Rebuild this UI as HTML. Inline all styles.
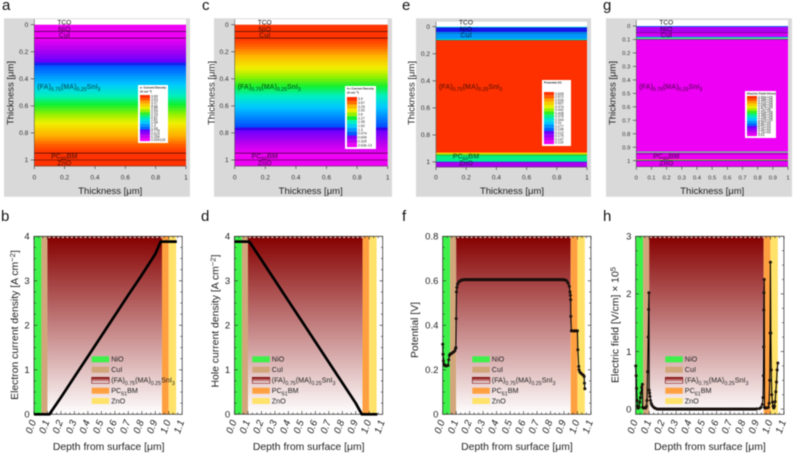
<!DOCTYPE html>
<html lang="en">
<head>
<meta charset="utf-8">
<title>Simulated perovskite device profiles</title>
<style>
html,body{margin:0;padding:0;background:#fff;width:793px;height:455px;overflow:hidden}
svg{display:block;filter:blur(.4px);font-family:"Liberation Sans","DejaVu Sans",sans-serif}
</style>
</head>
<body>
<svg id="figure" xmlns="http://www.w3.org/2000/svg" width="793" height="455" viewBox="0 0 793 455"></svg>
<script>
// ---------- heatmap data ----------
const rampEdges = [0,.02,.04,.06,.08,.1,.12,.14,.16,.18,.2,.22,.24,.26,.28,.3,.32,.34,.36,.38,.4,.42,.44,.46,.48,.5,.52,.54,.56,.58,.6,.62,.64,.66,.68,.7,.72,.74,.76,.78,.8,.82,.84,.86,.88,.9,.92,.94,.96,.98,1,1.02,1.04,1.06];
const electronMapValues = [0,0,0,0,0,.05,.14,.23,.32,.41,.5,.6,.69,.78,.87,.96,1.05,1.14,1.24,1.33,1.42,1.51,1.6,1.7,1.79,1.88,1.97,2.06,2.16,2.25,2.34,2.43,2.52,2.62,2.71,2.8,2.89,2.98,3.08,3.17,3.26,3.35,3.44,3.54,3.63,3.72,3.81,3.88,3.88,3.88,3.88,3.88,3.88];
const holeMapValues = [3.88,3.88,3.88,3.88,3.88,3.85,3.76,3.67,3.58,3.49,3.4,3.3,3.21,3.12,3.03,2.94,2.85,2.76,2.66,2.57,2.48,2.39,2.3,2.2,2.11,2.02,1.93,1.84,1.74,1.65,1.56,1.47,1.38,1.28,1.19,1.1,1.01,.92,.82,.73,.64,.55,.46,.36,.27,.18,.09,.02,0,0,0,0,0];
const potentialEdges = [0,.006,.04,.09,.1,.93,.94,.95,.995,1,1.06];
const potentialMapValues = [.335,.223,.277,.35,.605,.507,.43,.375,.29,.17];
const fieldEdges = [0,.006,.05,.08,.085,.09,.095,.1,.932,.935,.938,.941,.992,.995,.998,1.002,1.06];
const fieldMapValues = [.7,.25,.12,.8,1.2,1.8,.9,0,1.3,2,1.1,0,2.1,1.6,.7,.03];

// ---------- colour legend labels ----------
const electronLegendLabels = ["3.89","3.63","3.37","3.11","2.85","2.59","2.33","2.07","1.81","1.56","1.3","1.04","0.778","0.519","0.259","0.000115"];
const holeLegendLabels = ["3.9","3.57","3.25","2.92","2.6","2.27","1.95","1.62","1.3","0.974","0.649","0.325","3.63e-13"];
const potentialLegendLabels = ["0.605","0.572","0.539","0.507","0.474","0.442","0.408","0.375","0.343","0.31","0.277","0.245","0.212","0.179","0.147","0.115"];
const fieldLegendLabels = ["2.55e+05","2.38e+05","2.21e+05","2.04e+05","1.87e+05","1.7e+05","1.53e+05","1.36e+05","1.19e+05","1.02e+05","8.5e+04","6.8e+04","5.1e+04","3.4e+04","1.7e+04","3.61"];

// ---------- line series data ----------
const electronDepth = [0,.02,.04,.06,.08,.1,.114,.2,.3,.4,.5,.6,.7,.8,.9,.94,.96,1,1.03,1.06];
const electronCurrent = [0,0,0,0,0,0,0,.38,.84,1.3,1.76,2.22,2.68,3.13,3.6,3.88,3.88,3.88,3.88,3.88];
const holeDepth = [0,.02,.04,.06,.08,.1,.11,.2,.3,.4,.5,.6,.7,.8,.9,.945,.96,1,1.03,1.06];
const holeCurrent = [3.88,3.88,3.88,3.88,3.88,3.88,3.88,3.47,3.01,2.55,2.09,1.63,1.17,.71,.25,0,0,0,0,0];
const potentialDepth = [0,.002,.005,.01,.015,.02,.03,.04,.045,.05,.055,.06,.07,.08,.09,.095,.098,.1,.102,.105,.11,.12,.13,.14,.15,
.16,.17,.18,.19,.2,.21,.22,.23,.24,.25,
.26,.27,.28,.29,.3,.31,.32,.33,.34,.35,
.36,.37,.38,.39,.4,.41,.42,.43,.44,.45,
.46,.47,.48,.49,.5,.51,.52,.53,.54,.55,
.56,.57,.58,.59,.6,.61,.62,.63,.64,.65,
.66,.67,.68,.69,.7,.71,.72,.73,.74,.75,
.76,.77,.78,.79,.8,.81,.82,.83,.84,.85,
.86,.87,.88,.89,.9,
.91,.92,.93,.94,.945,.948,.95,.951,.955,.965,.975,.985,.995,1,1.003,1.01,1.012,1.018,1.025,1.035,1.045,1.05,1.052,1.055];
const potentialValues = [.315,.27,.24,.225,.22,.218,.218,.22,.245,.265,.27,.272,.275,.28,.285,.295,.3,.43,.55,.57,.585,.595,.6,.603,.604,
.605,.605,.605,.605,.605,.605,.605,.605,.605,.605,
.605,.605,.605,.605,.605,.605,.605,.605,.605,.605,
.605,.605,.605,.605,.605,.605,.605,.605,.605,.605,
.605,.605,.605,.605,.605,.605,.605,.605,.605,.605,
.605,.605,.605,.605,.605,.605,.605,.605,.605,.605,
.605,.605,.605,.605,.605,.605,.605,.605,.605,.605,
.605,.605,.605,.605,.605,.605,.605,.605,.605,.605,
.605,.605,.605,.605,.605,
.603,.6,.59,.575,.55,.535,.515,.44,.375,.375,.375,.375,.375,.375,.29,.215,.2,.19,.185,.18,.175,.17,.14,.115];
const fieldDepth = [0,.003,.006,.01,.013,.018,.025,.03,.035,.04,.045,.05,.052,.058,.065,.075,.08,.084,.088,.093,.096,.098,.1,.103,.106,.11,.115,.12,.13,.14,.15,
.16,.17,.18,.19,.2,.21,.22,.23,.24,.25,
.26,.27,.28,.29,.3,.31,.32,.33,.34,.35,
.36,.37,.38,.39,.4,.41,.42,.43,.44,.45,
.46,.47,.48,.49,.5,.51,.52,.53,.54,.55,
.56,.57,.58,.59,.6,.61,.62,.63,.64,.65,
.66,.67,.68,.69,.7,.71,.72,.73,.74,.75,
.76,.77,.78,.79,.8,.81,.82,.83,.84,.85,
.86,.87,.88,.89,
.9,.92,.93,.94,.945,.948,.95,.951,.952,.954,.956,.96,.97,.985,.99,.995,.998,1,1.003,1.006,1.01,1.015,1.02,1.025,1.03,1.035,1.04,1.045,1.05,1.055];
const fieldValues = [.75,.58,.36,.15,.05,.02,.03,.12,.2,.28,.38,.43,.03,.02,.02,.02,.05,.15,.65,1.25,1.73,2.02,.33,.28,.22,.15,.1,.07,.04,.02,.01,
0,0,0,0,0,0,0,0,0,0,
0,0,0,0,0,0,0,0,0,0,
0,0,0,0,0,0,0,0,0,0,
0,0,0,0,0,0,0,0,0,0,
0,0,0,0,0,0,0,0,0,0,
0,0,0,0,0,0,0,0,0,0,
0,0,0,0,0,0,0,0,0,0,
0,0,0,0,
.005,.01,.03,.08,.2,.58,1.08,1.72,2.02,2.25,.03,.02,.02,.03,.1,.5,1.32,2.55,1.32,.68,.25,.12,.05,.02,.05,.13,.3,.47,.68,.8];

// ---------- axis tick labels ----------
const heatTicksCoarse = [0,.2,.4,.6,.8,1];
const heatTicksFine = [0,.1,.2,.3,.4,.5,.6,.7,.8,.9,1];
const depthTickLabels = ["0.0","0.1","0.2","0.3","0.4","0.5","0.6","0.7","0.8","0.9","1.0","1.1"];
const currentTicks = [0,1,2,3,4];
const potentialTicks = [0,.2,.4,.6,.8];
const fieldTicks = [0,1,2,3];
const stackNames = [[["NiO",0]],[["CuI",0]],[["(FA)",0],["0.75",1],["(MA)",0],["0.25",1],["SnI",0],["3",1]],[["PC",0],["61",1],["BM",0]],[["ZnO",0]]];
const stackColors = ["#3df04a","#d2a67a",null,"#ffa040","#ffe26a"];
const layerEdges = [0,.055,.1,.95,1,1.055];

// ---------- helpers ----------
const NS = "http://www.w3.org/2000/svg";
const root = document.getElementById("figure");
function mk(parent, tag, attrs, text){
  const el = document.createElementNS(NS, tag);
  for (const k in attrs) el.setAttribute(k, attrs[k]);
  if (text !== undefined) el.textContent = text;
  parent.appendChild(el);
  return el;
}
function label(el, name){
  
  
  return el;
}
// segment level: 0 = baseline, 1 = subscript, -1 = superscript
function richText(parent, attrs, segs, name){
  const t = mk(parent, "text", attrs);
  label(t, name);
  const fs = parseFloat(attrs["font-size"]);
  let state = 0;
  segs.forEach(s => {
    const a = {};
    const level = s[1];
    if (level !== state) a.dy = ((level - state) * fs * 0.3).toFixed(2);
    if (level !== 0) a["font-size"] = (fs * .74).toFixed(2);
    mk(t, "tspan", a, s[0]);
    state = level;
  });
  return t;
}
const cmapStops = [[0,238,0,244],[.1,176,0,240],[.2,106,0,255],[.215,32,0,224],[.235,0,80,255],[.4,0,200,255],[.5,0,240,192],[.58,16,240,48],[.66,144,240,0],[.74,240,240,0],[.85,255,176,0],[.93,255,96,0],[1,255,48,0]];
function cmap(t){
  t = Math.max(0, Math.min(1, t));
  for (let i = 1; i < cmapStops.length; i++){
    const a = cmapStops[i-1], b = cmapStops[i];
    if (t <= b[0]){
      const f = (t - a[0]) / (b[0] - a[0]);
      return "rgb(" + [1,2,3].map(k => Math.round(a[k] + (b[k]-a[k]) * f)).join(",") + ")";
    }
  }
  return "rgb(255,48,0)";
}

// ---------- gradient used by perovskite layer ----------
const defs = mk(root, "defs", {});
const grad = mk(defs, "linearGradient", {id:"perovskite", x1:0, y1:0, x2:0, y2:1});
mk(grad, "stop", {offset:"0", "stop-color":"#860000"});
mk(grad, "stop", {offset:"1", "stop-color":"#ffffff"});

// ---------- heatmap panels ----------
function heatPanel(p){
  const g = mk(root, "g", {});
  label(g, "panel-" + p.letter);
  label(mk(g, "rect", {x:p.bg[0], y:18.3, width:p.bg[1]-p.bg[0], height:178.5, fill:"#d9d9d9"}), "panel-background");
  label(mk(g, "text", {x:p.lx, y:10, "font-size":15, fill:"#111"}, p.letter), "panel-letter");
  const X = v => p.x0 + v * (p.x1 - p.x0);
  const Y = v => p.y0 + v * (p.y1 - p.y0);
  const bottom = p.yb;
  label(mk(g, "rect", {x:p.x0, y:p.yt, width:p.x1-p.x0, height:bottom-p.yt, fill:"#fff"}), "tco-region");
  const cg = mk(g, "g", {});
  label(cg, "heatmap");
  p.values.forEach((v, i) => {
    const top = Y(p.edges[i]);
    const bot = Math.min(Y(p.edges[i+1]), bottom);
    const c = mk(cg, "rect", {x:p.x0, y:top.toFixed(2), width:p.x1-p.x0, height:(bot-top+.3).toFixed(2), fill:cmap((v-p.min)/(p.max-p.min))});
    label(c, "heatmap-band");
  });
  [.05,.1,.95,1].forEach(d => {
    label(mk(g, "line", {x1:p.x0, x2:p.x1, y1:Y(d), y2:Y(d), stroke:"#000", "stroke-width":.6, "stroke-opacity":p.lineOp}), "layer-boundary");
  });
  // axes
  const axisColor = "#444";
  p.ticks.forEach(t => {
    label(mk(g, "line", {x1:p.x0-3.5, x2:p.x0, y1:Y(t), y2:Y(t), stroke:axisColor, "stroke-width":.7}), "y-tick");
    label(mk(g, "line", {x1:X(t), x2:X(t), y1:bottom, y2:bottom+3, stroke:axisColor, "stroke-width":.7}), "x-tick");
    label(mk(g, "text", {x:p.x0-6, y:Y(t)+2.2, "font-size":p.tickFont, "text-anchor":"end", fill:"#333"}, t === 0 || t === 1 ? String(t) : t.toFixed(1)), "y-tick-label");
    label(mk(g, "text", {x:X(t), y:179.5, "font-size":p.tickFont, "text-anchor":"middle", fill:"#333"}, t === 0 || t === 1 ? String(t) : t.toFixed(1)), "x-tick-label");
  });
  label(mk(g, "line", {x1:p.x0, x2:p.x0, y1:p.yt, y2:bottom, stroke:axisColor, "stroke-width":.5}), "y-axis");
  label(mk(g, "line", {x1:p.x0, x2:p.x1, y1:bottom, y2:bottom, stroke:axisColor, "stroke-width":.5}), "x-axis");
  label(mk(g, "text", {x:0, y:0, "font-size":9.5, "text-anchor":"middle", "dominant-baseline":"central", fill:"#222", transform:"translate("+p.ytx+",93) rotate(-90)"}, "Thickness [\u03bcm]"), "y-axis-title");
  label(mk(g, "text", {x:p.x0+76, y:194, "font-size":9.5, "text-anchor":"middle", fill:"#222"}, "Thickness [\u03bcm]"), "x-axis-title");
  // layer labels
  const cx = p.x0 + 30;
  const labelAttrs = (x,y,a) => ({x:x, y:y, "font-size":7, "text-anchor":a, "font-weight":"bold", fill:"#000", "fill-opacity":.5});
  const tco = labelAttrs(cx,24.3,"middle"); tco["fill-opacity"] = .95; tco["font-weight"] = "normal"; tco["font-size"] = 6.6;
  label(mk(g, "text", tco, "TCO"), "tco-label");
  label(mk(g, "text", labelAttrs(cx,31.5,"middle"), "NiO"), "nio-label");
  label(mk(g, "text", labelAttrs(cx,37.5,"middle"), "CuI"), "cui-label");
  richText(g, labelAttrs(p.x0+3,89,"start"), [["(FA)",0],["0.75",1],["(MA)",0],["0.25",1],["SnI",0],["3",1]], "perovskite-label");
  richText(g, labelAttrs(cx,158.5,"middle"), [["PC",0],["60",1],["BM",0]], "pcbm-label");
  label(mk(g, "text", labelAttrs(cx,165.3,"middle"), "ZnO"), "zno-label");
  // colour legend
  const L = p.leg;
  const lg = mk(g, "g", {});
  label(lg, "color-legend");
  label(mk(lg, "rect", {x:L.x, y:L.y, width:L.w, height:L.h, fill:"#fff"}), "legend-box");
  p.legTitle.forEach((s, i) => {
    label(mk(lg, "text", {x:L.x+2, y:L.y+3.6+i*4, "font-size":3, "font-weight":"bold", fill:"#111"}, s), "legend-title");
  });
  const n = p.legend.length;
  const sy = L.y + L.top, sh = (L.h - L.top - 2) / n;
  p.legend.forEach((s, i) => {
    const v = parseFloat(s) * p.legScale;
    label(mk(lg, "rect", {x:L.x+2, y:(sy+i*sh).toFixed(2), width:10, height:(sh+.1).toFixed(2), fill:cmap((v-p.min)/(p.max-p.min))}), "legend-swatch");
    label(mk(lg, "text", {x:L.x+13, y:(sy+i*sh+sh/2+1.2).toFixed(2), "font-size":3.5, fill:"#222"}, s), "legend-value");
  });
}
heatPanel({letter:"a", lx:2, bg:[4,190], x0:34.3, x1:186, y0:24.7, y1:160, yt:19.2, yb:166, ytx:11, tickFont:6.6, edges:rampEdges, values:electronMapValues, min:0, max:3.89, lineOp:.85, ticks:heatTicksCoarse,
  legTitle:["e- Current Density","(A cm\u207b\u00b2)"], legend:electronLegendLabels, legScale:1, leg:{x:138,y:85,w:30,h:58,top:10}});
heatPanel({letter:"c", lx:202, bg:[214,392], x0:234.7, x1:387.7, y0:24.7, y1:160, yt:19.2, yb:166, ytx:212, tickFont:6.6, edges:rampEdges, values:holeMapValues, min:0, max:3.9, lineOp:.85, ticks:heatTicksCoarse,
  legTitle:["h+ Current Density","(A cm\u207b\u00b2)"], legend:holeLegendLabels, legScale:1, leg:{x:345,y:86,w:31,h:63,top:11}});
heatPanel({letter:"e", lx:402, bg:[416,591], x0:436, x1:587, y0:26.7, y1:162, yt:21.7, yb:167, ytx:412, tickFont:6.6, edges:potentialEdges, values:potentialMapValues, min:.115, max:.605, lineOp:.35, ticks:heatTicksCoarse,
  legTitle:["     Potential (V)"], legend:potentialLegendLabels, legScale:1, leg:{x:542,y:80,w:29,h:66,top:12}});
heatPanel({letter:"g", lx:603, bg:[606,792], x0:636.3, x1:788, y0:26, y1:160.7, yt:20, yb:166.7, ytx:613, tickFont:5.8, edges:fieldEdges, values:fieldMapValues, min:0, max:2.55, lineOp:.45, ticks:heatTicksFine,
  legTitle:["Electric Field (V/cm)"], legend:fieldLegendLabels, legScale:1e-5, leg:{x:745,y:91,w:31,h:47,top:5}});

// ---------- line panels ----------
const PT = 236.3, PB = 414.3;
function linePanel(p){
  const g = mk(root, "g", {});
  label(g, "panel-" + p.letter);
  label(mk(g, "text", {x:p.lx, y:221, "font-size":15, fill:"#111"}, p.letter), "panel-letter");
  const X = v => p.x0 + v / 1.1 * 148.2;
  const Y = v => PB - (v - p.ymin) / (p.ymax - p.ymin) * (PB - PT);
  const names = ["nio-layer","cui-layer","perovskite-layer","pcbm-layer","zno-layer"];
  stackColors.forEach((c, i) => {
    label(mk(g, "rect", {x:X(layerEdges[i]), y:PT, width:X(layerEdges[i+1])-X(layerEdges[i]), height:PB-PT, fill:c || "url(#perovskite)"}), names[i]);
  });
  // pale comb along the top of the perovskite
  for (let k = 3; k < 29; k++){
    const d = k / 30;
    label(mk(g, "rect", {x:X(d)+.8, y:PT+.4, width:2.2, height:1.3, fill:"#ecc0b8"}), "top-edge-dash");
  }
  // frame ticks
  const tk = "#222";
  for (let k = 0; k <= 33; k++){
    const d = k / 30;
    const major = k % 3 === 0;
    const len = major ? 3.2 : 1.8;
    label(mk(g, "line", {x1:X(d), x2:X(d), y1:PB, y2:PB-len, stroke:tk, "stroke-width":.6}), "x-tick-bottom");
    label(mk(g, "line", {x1:X(d), x2:X(d), y1:PT, y2:PT+len, stroke:tk, "stroke-width":.6}), "x-tick-top");
  }
  depthTickLabels.forEach((s, i) => {
    const x = X(i / 10);
    label(mk(g, "text", {transform:"translate("+(x-2.5)+",427) rotate(-70)", "font-size":9.8, "font-style":"italic", "text-anchor":"middle", "dominant-baseline":"central", fill:"#222"}, s), "x-tick-label");
  });
  p.ticks.forEach(t => {
    label(mk(g, "text", {x:p.x0-4.3, y:Y(t)+3.3, "font-size":9.5, "text-anchor":"end", fill:"#222"}, p.fmt(t)), "y-tick-label");
  });
  const step = p.ticks[1] - p.ticks[0];
  for (let k = 0; k * step / 4 <= p.ymax + 1e-9; k++){
    const v = k * step / 4;
    const len = k % 4 === 0 ? 3.2 : 1.8;
    label(mk(g, "line", {x1:p.x0, x2:p.x0+len, y1:Y(v), y2:Y(v), stroke:tk, "stroke-width":.6}), "y-tick-left");
    label(mk(g, "line", {x1:p.x0+148.2, x2:p.x0+148.2-len, y1:Y(v), y2:Y(v), stroke:tk, "stroke-width":.6}), "y-tick-right");
  }
  label(mk(g, "rect", {x:p.x0, y:PT, width:148.2, height:PB-PT, fill:"none", stroke:"#222", "stroke-width":.7}), "plot-frame");
  // stack legend
  const rows = [359.3,369.7,380.3,390.7,401];
  const lg = mk(g, "g", {});
  label(lg, "layer-legend");
  stackNames.forEach((segs, i) => {
    const a = {x:p.legX, y:rows[i]-3, width:17.5, height:6, fill:stackColors[i] || "url(#perovskite)"};
    if (!stackColors[i]){ a.stroke = "#7a1010"; a["stroke-width"] = .6; }
    label(mk(lg, "rect", a), "legend-swatch");
    richText(lg, {x:p.legX+19.5, y:rows[i]+2.4, "font-size":7.2, fill:"#222"}, segs, "legend-entry");
  });
  // series
  const pts = p.xs.map((d, i) => X(d).toFixed(2) + "," + Y(p.ys[i]).toFixed(2)).join(" ");
  label(mk(g, "polyline", {points:pts, fill:"none", stroke:"#000", "stroke-width":p.lw, "stroke-linejoin":"round"}), "data-line");
  if (p.markers){
    const mg = mk(g, "g", {});
    label(mg, "data-markers");
    p.xs.forEach((d, i) => {
      label(mk(mg, "circle", {cx:X(d).toFixed(2), cy:Y(p.ys[i]).toFixed(2), r:1.3, fill:"#2a1c14", stroke:"#000", "stroke-width":.5}), "data-point");
    });
  }
  label(mk(g, "text", {x:p.tx, y:450, "font-size":10.4, "text-anchor":"middle", fill:"#222"}, "Depth from surface [\u03bcm]"), "x-axis-title");
  richText(g, {x:0, y:0, "font-size":10.4, "text-anchor":"middle", "dominant-baseline":"central", fill:"#222", transform:"translate("+p.ytx+","+p.yty+") rotate(-90)"}, p.ytitle, "y-axis-title");
}
linePanel({letter:"b", lx:1, x0:34, legX:91.7, ymin:0, ymax:4, ticks:currentTicks, fmt:t=>String(t), xs:electronDepth, ys:electronCurrent, lw:2.7, markers:false, tx:108.7, ytx:15, yty:325,
  ytitle:[["Electron current density [A cm",0],["\u22122",-1],["]",0]]});
linePanel({letter:"d", lx:201, x0:234.5, legX:252.3, ymin:0, ymax:4, ticks:currentTicks, fmt:t=>String(t), xs:holeDepth, ys:holeCurrent, lw:2.7, markers:false, tx:308.7, ytx:215.7, yty:321,
  ytitle:[["Hole current density [A cm",0],["\u22122",-1],["]",0]]});
linePanel({letter:"f", lx:402, x0:442.7, legX:472.3, ymin:0, ymax:.8, ticks:potentialTicks, fmt:t=>t===0?"0":t.toFixed(1), xs:potentialDepth, ys:potentialValues, lw:1.1, markers:true, tx:517, ytx:415, yty:330,
  ytitle:[["Potential [V]",0]]});
linePanel({letter:"h", lx:603, x0:635.7, legX:665.3, ymin:-.09, ymax:3, ticks:fieldTicks, fmt:t=>String(t), xs:fieldDepth, ys:fieldValues, lw:1.1, markers:true, tx:710, ytx:615.7, yty:325,
  ytitle:[["Electric field [V/cm] \u00d7 10",0],["5",-1]]});
</script>
</body>
</html>
